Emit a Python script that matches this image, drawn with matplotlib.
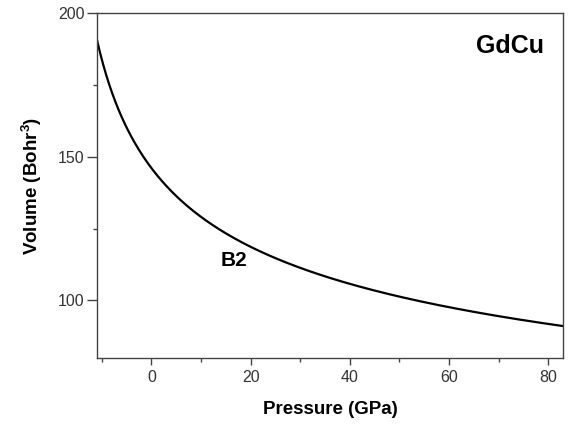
import numpy as np
import matplotlib
matplotlib.use('Agg')
import matplotlib.pyplot as plt
from matplotlib.ticker import MultipleLocator

plt.rcParams['font.family'] = ['Liberation Sans', 'DejaVu Sans']
plt.rcParams['mathtext.fontset'] = 'custom'
plt.rcParams['mathtext.rm'] = 'Liberation Sans'
plt.rcParams['mathtext.bf'] = 'Liberation Sans:bold'

# equation of state
pressure = [-11.0, -9.4, -7.4, -4.8, -1.35, 2.1, 6.1, 10.8, 19.9, 26.5,
            33.4, 40.1, 46.7, 53.6, 60.3, 66.9, 73.8, 82.9]
volume = [191.7, 180.2, 168.8, 158.3, 149.0, 142.0, 135.1, 128.8, 119.4, 113.5,
          109.0, 105.6, 102.1, 99.7, 97.6, 95.1, 93.4, 91.7]

# smooth the read points a bit for drawing
p = np.array(pressure)
v = np.array(volume)
coef = np.polyfit(np.log(p + 20), np.log(v), 3)
pp = np.linspace(p[0], p[-1], 300)
vv = np.exp(np.polyval(coef, np.log(pp + 20)))

fig = plt.figure(figsize=(5.7, 4.24), dpi=100)
ax = fig.add_axes([0.170, 0.156, 0.818, 0.813])
ax.plot(pp, vv, color='black', lw=1.6)

ax.set_xlim(-11, 83)
ax.set_ylim(80, 200)
ax.xaxis.set_major_locator(MultipleLocator(20))
ax.xaxis.set_minor_locator(MultipleLocator(10))
ax.yaxis.set_major_locator(MultipleLocator(50))
ax.yaxis.set_minor_locator(MultipleLocator(25))
ax.tick_params(which='both', direction='out', top=False, right=False,
               color='#444444', labelcolor='#333333', labelsize=11.5)
ax.tick_params(axis='y', which='major', length=7, width=1, pad=2)
ax.tick_params(axis='x', which='major', length=5, width=1, pad=4)
ax.tick_params(which='minor', length=3, width=1)
for s in ax.spines.values():
    s.set_color('#444444')
    s.set_linewidth(1.0)

ax.set_xlabel('Pressure (GPa)', fontsize=13.5, fontweight='bold', labelpad=11)
ax.set_ylabel(r'Volume (Bohr$^\mathbf{3}$)', fontsize=13.5, fontweight='bold', labelpad=10)

ax.text(16.6, 114, 'B2', fontsize=15, fontweight='bold', ha='center', va='center')
ax.text(72.2, 188.5, 'GdCu', fontsize=18, fontweight='bold', ha='center', va='center')

fig.savefig('out.png', dpi=100)
